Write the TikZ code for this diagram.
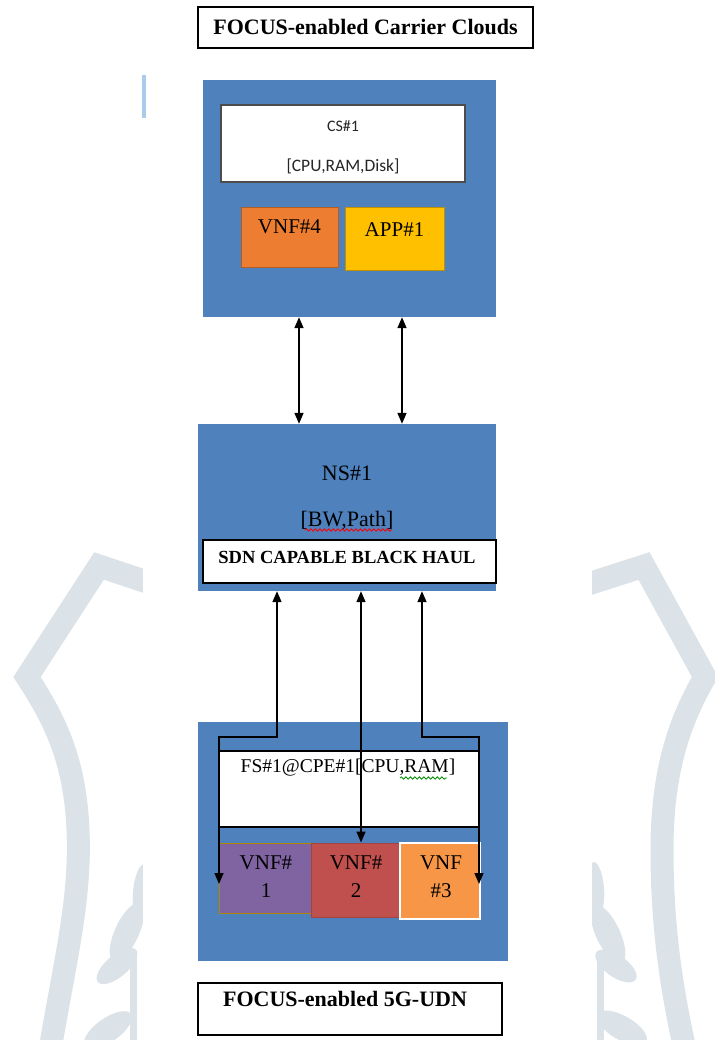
\documentclass[tikz,border=0pt]{standalone}
\usepackage{fontspec}
\setmainfont{Liberation Serif}
\newfontfamily\calib{Carlito}
\usetikzlibrary{arrows.meta,decorations.pathmorphing}

\definecolor{ofblue}{HTML}{4F81BD}
\definecolor{oforange}{HTML}{ED7D31}
\definecolor{ofgold}{HTML}{FFC000}
\definecolor{ofpurple}{HTML}{8064A2}
\definecolor{ofred}{HTML}{C0504D}
\definecolor{oflight}{HTML}{F79646}
\definecolor{wmark}{HTML}{DCE3E8}
\definecolor{cursor}{HTML}{A9CBEE}

\begin{document}
\begin{tikzpicture}[x=1pt,y=-1pt,
  panel/.style={fill=ofblue, inner sep=0pt},
  whitebox/.style={fill=white, draw=black, line width=1.5pt, inner sep=0pt},
  tile/.style={inner sep=0pt, line width=1pt},
  caption/.style={inner sep=0pt, font=\fontsize{22}{24}\selectfont\bfseries},
  serif/.style={inner sep=0pt, font=\fontsize{21}{28}\selectfont, align=center},
  biarrow/.style={line width=1.5pt, arrows={Triangle[length=11pt,width=9pt]-Triangle[length=11pt,width=9pt]}},
  squiggle/.style={decorate, decoration={snake, amplitude=1.2pt, segment length=4.5pt}, line width=0.8pt}
]
\useasboundingbox (0,0) rectangle (714,1040);

% page watermark behind the figure
\begin{scope}[wmark, line width=23pt, line join=miter]
  \draw (150,583) -- (99,566) -- (27,677)
        .. controls (55,720) and (75,760) .. (78,830)
        .. controls (81,900) and (65,960) .. (50,1050);
  \draw (585,585) -- (644,566) -- (705,677)
        .. controls (680,720) and (662,770) .. (662,850)
        .. controls (662,930) and (672,990) .. (685,1050);
\end{scope}
\begin{scope}[fill=wmark]
  % left sprig
  \fill[rotate around={-5:(142,892)}] (142,892) ellipse (9 and 28);
  \fill[rotate around={-25:(127,932)}] (127,932) ellipse (12 and 32);
  \fill[rotate around={-50:(117,966)}] (117,966) ellipse (11 and 25);
  \fill[rotate around={-55:(108,1030)}] (108,1030) ellipse (12 and 28);
  \fill (130,955) rectangle (137,1040);
  % right sprig
  \fill[rotate around={5:(596,888)}] (596,888) ellipse (8 and 26);
  \fill[rotate around={25:(608,934)}] (608,934) ellipse (12 and 32);
  \fill[rotate around={55:(616,966)}] (616,966) ellipse (11 and 24);
  \fill[rotate around={60:(622,1028)}] (622,1028) ellipse (12 and 28);
  \fill (597,955) rectangle (604,1040);
\end{scope}
\fill[white] (143,540) rectangle (592,1040);
\fill[cursor] (142,75) rectangle (146,118);

% carrier cloud
\node[whitebox, line width=1.8pt, minimum width=335pt, minimum height=41pt, caption]
  (title) at (365.5,27.5) {FOCUS-enabled Carrier Clouds};
\node[panel, minimum width=293pt, minimum height=237pt] (cloud) at (349.5,198.5) {};
\node[fill=white, draw=black!70, line width=1.2pt, inner sep=0pt,
      minimum width=244pt, minimum height=77pt] (cs) at (343,143.5) {};
\node[inner sep=0pt, text=black!85, font=\calib\fontsize{16}{18}\selectfont] (cst) at (343,126) {CS\#1};
\node[inner sep=0pt, text=black!85, font=\calib\fontsize{17.5}{18}\selectfont] (csr) at (343,166) {[CPU,RAM,Disk]};
\node[tile, fill=oforange, draw=oforange!75!black, minimum width=97pt, minimum height=60pt] (vnf4) at (289.5,238) {};
\node[serif] at (289.5,227) {VNF\#4};
\node[tile, fill=ofgold, draw=ofgold!75!black, minimum width=99pt, minimum height=63pt] (app1) at (394.5,239.5) {};
\node[serif] at (394.5,230) {APP\#1};

% network slice
\node[panel, minimum width=298pt, minimum height=167pt] (ns) at (347,507.5) {};
\node[inner sep=0pt, font=\fontsize{22}{24}\selectfont] (nst) at (347,473) {NS\#1};
\node[inner sep=0pt, font=\fontsize{22}{24}\selectfont] (nsr) at (347,521) {[BW,Path]};
\draw[red, squiggle] (305,530) -- (392,530);
\node[whitebox, minimum width=293pt, minimum height=43pt] (sdn) at (349.5,561.5) {};
\node[inner sep=0pt, font=\fontsize{18.5}{20}\selectfont\bfseries] (sdnt) at (347,557) {SDN CAPABLE BLACK HAUL};

\coordinate (a1) at (299,0);
\coordinate (a2) at (402,0);
\draw[biarrow] (cloud.south -| a1) -- (ns.north -| a1);
\draw[biarrow] (cloud.south -| a2) -- (ns.north -| a2);

% fog slice at the CPE
\node[panel, minimum width=310pt, minimum height=239pt] (fsb) at (353,841.5) {};
\node[whitebox, minimum width=260pt, minimum height=76pt] (fs) at (349,789) {};
\node[inner sep=0pt, font=\fontsize{19.5}{22}\selectfont] (fst) at (348,768) {FS\#1@CPE\#1[CPU,RAM]};
\draw[green!55!black, squiggle] (400,778) -- (447,778);
\node[tile, fill=ofpurple, draw=ofgold!70!black, minimum width=92pt, minimum height=70pt] (v1) at (265,878) {};
\node[tile, fill=ofred, draw=ofred!85!black, minimum width=89pt, minimum height=74pt] (v2) at (355.5,880) {};
\node[tile, fill=oflight, draw=white, line width=1.5pt, minimum width=80pt, minimum height=76pt] (v3) at (440,881) {};
\node[serif] at (266,877) {VNF\#\\1};
\node[serif] at (356,877) {VNF\#\\2};
\node[serif] at (441,877) {VNF\\\#3};

\coordinate (lb) at (277,737);
\coordinate (rb) at (422,737);
\coordinate (le) at (219,884);
\coordinate (re) at (479,884);
\coordinate (mx) at (361,0);
\draw[biarrow] (ns.south -| lb) -- (lb) -- (lb -| le) -- (le);
\draw[biarrow] (ns.south -| rb) -- (rb) -- (rb -| re) -- (re);
\draw[biarrow] (ns.south -| mx) -- (v2.north -| mx);

% fog caption
\node[whitebox, minimum width=304pt, minimum height=52pt] (udn) at (350,1009) {};
\node[caption] (udnt) at (345,999) {FOCUS-enabled 5G-UDN};
\end{tikzpicture}
\end{document}
